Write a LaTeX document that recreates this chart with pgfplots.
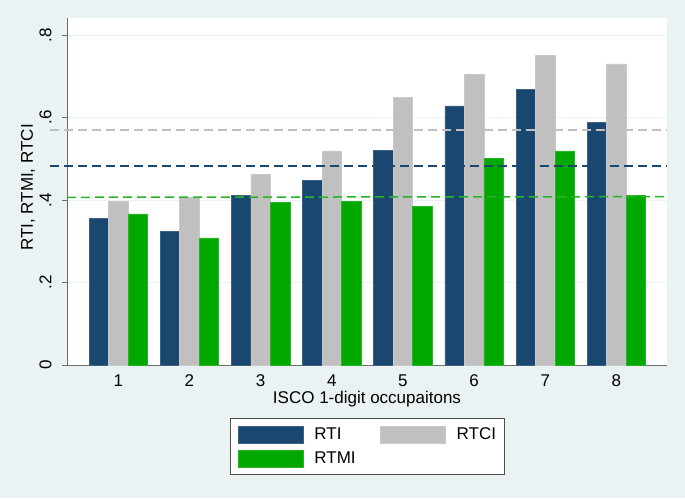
\documentclass[border=0pt]{standalone}
\usepackage{fontspec}
\setmainfont{Liberation Sans}
\usepackage{pgfplots}
\pgfplotsset{compat=1.18}

\definecolor{bgc}{RGB}{234,242,243}
\definecolor{rti}{RGB}{26,71,111}
\definecolor{rtci}{RGB}{192,192,192}
\definecolor{rtmi}{RGB}{0,168,0}
\definecolor{lgreen}{RGB}{40,180,40}
\definecolor{axgray}{RGB}{110,110,110}

\begin{document}
\fontsize{17}{20}\selectfont
\begin{tikzpicture}
\fill[bgc] (-67pt,-133pt) rectangle (618pt,365pt);
\begin{axis}[
  at={(0pt,0pt)}, anchor=south west,
  scale only axis, width=600pt, height=347pt,
  xmin=0.279, xmax=8.71, ymin=0, ymax=0.841,
  axis lines=left, axis line style={-, draw=axgray, line width=0.8pt},
  axis background/.style={fill=white},
  clip=false,
  xtick={1,...,8}, xtick style={draw=none},
  xticklabel style={anchor=center, inner sep=0pt, yshift=-11.5pt},
  ytick={0,0.2,0.4,0.6,0.8}, yticklabels={0,.2,.4,.6,.8},
  ytick style={draw=axgray, line width=0.8pt},
  tick align=outside, major tick length=4.5pt,
  yticklabel style={anchor=center, inner sep=0pt, xshift=-17pt, rotate=90},
  ymajorgrids, grid style={draw=bgc, line width=0.8pt},
  /pgf/number format/assume math mode=true,
  xlabel={ISCO 1-digit occupaitons},
  ylabel={RTI, RTMI, RTCI},
  every axis x label/.style={at={(axis description cs:0.5,0)}, anchor=center, inner sep=0pt, yshift=-34.5pt},
  every axis y label/.style={at={(axis description cs:0,0.5)}, anchor=center, inner sep=0pt, xshift=-39pt, yshift=4pt, rotate=90},
  legend columns=2, legend cell align=left,
  legend style={at={(axis description cs:0.5,-0.1527)}, anchor=north,
    draw=axgray!70!black, line width=0.8pt, fill=white,
    inner xsep=8pt, inner ysep=7.5pt, row sep=6.3pt,
    /tikz/every odd column/.append style={column sep=11pt},
    /tikz/every even column/.append style={column sep=24.5pt},
    nodes={inner sep=0pt}},
  legend image code/.code={\fill[#1] (0pt,-8.5pt) rectangle (65pt,8.5pt);},
]
% bars
\addplot[ybar, bar width=0.274, bar shift=-0.274, fill=rti, draw=rti!85!white, line width=0.5pt]
  coordinates {(1,0.356) (2,0.324) (3,0.412) (4,0.448) (5,0.520) (6,0.628) (7,0.668) (8,0.588)};
\addlegendentry{RTI}
\addplot[ybar, bar width=0.274, bar shift=0, fill=rtci, draw=rtci!85!white, line width=0.5pt]
  coordinates {(1,0.397) (2,0.406) (3,0.462) (4,0.519) (5,0.648) (6,0.704) (7,0.751) (8,0.730)};
\addlegendentry{RTCI}
\addplot[ybar, bar width=0.274, bar shift=0.274, fill=rtmi, draw=rtmi!85!white, line width=0.5pt]
  coordinates {(1,0.366) (2,0.308) (3,0.394) (4,0.396) (5,0.385) (6,0.501) (7,0.519) (8,0.411)};
\addlegendentry{RTMI}

% mean lines
\addplot[forget plot, draw=rtci, line width=1.5pt, dash pattern=on 9pt off 5pt]
  coordinates {(0.04,0.570) (8.71,0.570)};
\addplot[forget plot, draw=rti, line width=1.5pt, dash pattern=on 9pt off 5pt]
  coordinates {(0.04,0.482) (8.71,0.482)};
\addplot[forget plot, draw=lgreen, line width=1.5pt, dash pattern=on 9pt off 5pt]
  coordinates {(0.279,0.4065) (8.71,0.408)};
\end{axis}
\pgfresetboundingbox
\path (-67pt,-133pt) rectangle (618pt,365pt);
\end{tikzpicture}
\end{document}
